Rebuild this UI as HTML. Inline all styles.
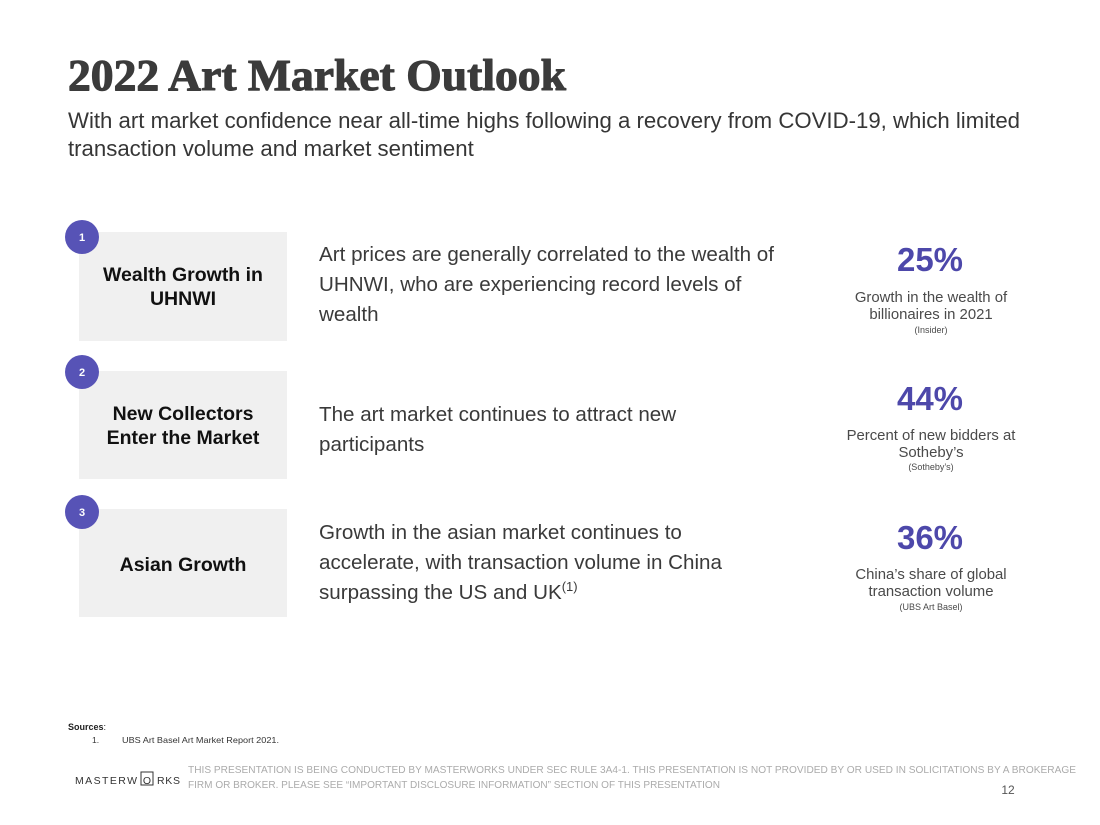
<!DOCTYPE html>
<html>
<head>
<meta charset="utf-8">
<style>
  html, body { margin: 0; padding: 0; background: #ffffff; }
  body { width: 1100px; height: 825px; overflow: hidden; }
  svg { display: block; }
  .sans { font-family: "Liberation Sans", Arial, sans-serif; }
  .serif { font-family: "Liberation Serif", "Times New Roman", serif; }
</style>
</head>
<body>
<svg width="1100" height="825" viewBox="0 0 1100 825" xmlns="http://www.w3.org/2000/svg">
  <rect x="0" y="0" width="1100" height="825" fill="#ffffff"/>

  <!-- Title -->
  <text class="serif" x="68" y="90" font-size="44" font-weight="bold" fill="#3b3b3b" stroke="#3b3b3b" stroke-width="1.1" stroke-linejoin="round" textLength="498" lengthAdjust="spacingAndGlyphs">2022 Art Market Outlook</text>

  <!-- Subtitle -->
  <text class="sans" x="68" y="128" font-size="22.2" fill="#363636" textLength="952" lengthAdjust="spacingAndGlyphs">With art market confidence near all-time highs following a recovery from COVID-19, which limited</text>
  <text class="sans" x="68" y="156" font-size="22.2" fill="#363636">transaction volume and market sentiment</text>

  <!-- Boxes -->
  <rect x="79" y="232" width="208" height="109" fill="#f0f0f0"/>
  <rect x="79" y="371" width="208" height="108" fill="#f0f0f0"/>
  <rect x="79" y="509" width="208" height="108" fill="#f0f0f0"/>

  <!-- Number circles -->
  <circle cx="82" cy="237" r="17" fill="#5753b6"/>
  <text class="sans" x="82" y="241" font-size="11" font-weight="bold" fill="#ffffff" text-anchor="middle">1</text>
  <circle cx="82" cy="372" r="17" fill="#5753b6"/>
  <text class="sans" x="82" y="376" font-size="11" font-weight="bold" fill="#ffffff" text-anchor="middle">2</text>
  <circle cx="82" cy="512" r="17" fill="#5753b6"/>
  <text class="sans" x="82" y="516" font-size="11" font-weight="bold" fill="#ffffff" text-anchor="middle">3</text>

  <!-- Box labels -->
  <g class="sans" font-size="19.5" font-weight="bold" fill="#111111" text-anchor="middle">
    <text x="183" y="281">Wealth Growth in</text>
    <text x="183" y="305">UHNWI</text>
    <text x="183" y="420">New Collectors</text>
    <text x="183" y="444">Enter the Market</text>
    <text x="183" y="571">Asian Growth</text>
  </g>

  <!-- Middle descriptions -->
  <g class="sans" font-size="20.6" fill="#3a3a3a">
    <text x="319" y="261" textLength="455" lengthAdjust="spacingAndGlyphs">Art prices are generally correlated to the wealth of</text>
    <text x="319" y="291">UHNWI, who are experiencing record levels of</text>
    <text x="319" y="321">wealth</text>

    <text x="319" y="421">The art market continues to attract new</text>
    <text x="319" y="451">participants</text>

    <text x="319" y="539">Growth in the asian market continues to</text>
    <text x="319" y="569">accelerate, with transaction volume in China</text>
    <text x="319" y="599">surpassing the US and UK<tspan font-size="13" dy="-8">(1)</tspan></text>
  </g>

  <!-- Stats -->
  <g class="sans" text-anchor="middle">
    <text x="930" y="271" font-size="33" font-weight="bold" fill="#4d48aa">25%</text>
    <text x="931" y="302" font-size="14.9" fill="#4a4a4a">Growth in the wealth of</text>
    <text x="931" y="319" font-size="14.9" fill="#4a4a4a">billionaires in 2021</text>
    <text x="931" y="333" font-size="9" fill="#4a4a4a">(Insider)</text>

    <text x="930" y="410" font-size="33" font-weight="bold" fill="#4d48aa">44%</text>
    <text x="931" y="440" font-size="14.9" fill="#4a4a4a">Percent of new bidders at</text>
    <text x="931" y="457" font-size="14.9" fill="#4a4a4a">Sotheby’s</text>
    <text x="931" y="470" font-size="9" fill="#4a4a4a">(Sotheby’s)</text>

    <text x="930" y="549" font-size="33" font-weight="bold" fill="#4d48aa">36%</text>
    <text x="931" y="579" font-size="14.9" fill="#4a4a4a">China’s share of global</text>
    <text x="931" y="596" font-size="14.9" fill="#4a4a4a">transaction volume</text>
    <text x="931" y="610" font-size="9" fill="#4a4a4a">(UBS Art Basel)</text>
  </g>

  <!-- Sources -->
  <text class="sans" x="68" y="730" font-size="9" font-weight="bold" fill="#222222">Sources<tspan font-weight="normal">:</tspan></text>
  <text class="sans" x="92" y="743" font-size="8.5" fill="#333333">1.</text>
  <text class="sans" x="122" y="743" font-size="8.5" fill="#333333" textLength="157" lengthAdjust="spacingAndGlyphs">UBS Art Basel Art Market Report 2021.</text>

  <!-- Logo -->
  <text class="sans" x="75" y="784" font-size="10.5" fill="#333333" textLength="62" lengthAdjust="spacing">MASTERW</text>
  <rect x="141" y="772" width="12" height="13" fill="none" stroke="#333333" stroke-width="1"/>
  <text class="sans" x="147" y="784" font-size="10.5" fill="#333333" text-anchor="middle">O</text>
  <text class="sans" x="157" y="784" font-size="10.5" fill="#333333" textLength="23" lengthAdjust="spacing">RKS</text>

  <!-- Disclaimer -->
  <text class="sans" x="188" y="773" font-size="10" fill="#ababab" textLength="888" lengthAdjust="spacingAndGlyphs">THIS PRESENTATION  IS BEING CONDUCTED BY MASTERWORKS UNDER SEC RULE 3A4-1. THIS PRESENTATION  IS NOT PROVIDED BY OR USED IN SOLICITATIONS BY A BROKERAGE</text>
  <text class="sans" x="188" y="788" font-size="10" fill="#ababab" textLength="532" lengthAdjust="spacingAndGlyphs">FIRM OR BROKER. PLEASE SEE “IMPORTANT DISCLOSURE INFORMATION” SECTION OF THIS PRESENTATION</text>

  <!-- Page number -->
  <text class="sans" x="1008" y="794" font-size="12" fill="#555555" text-anchor="middle">12</text>
</svg>
</body>
</html>
